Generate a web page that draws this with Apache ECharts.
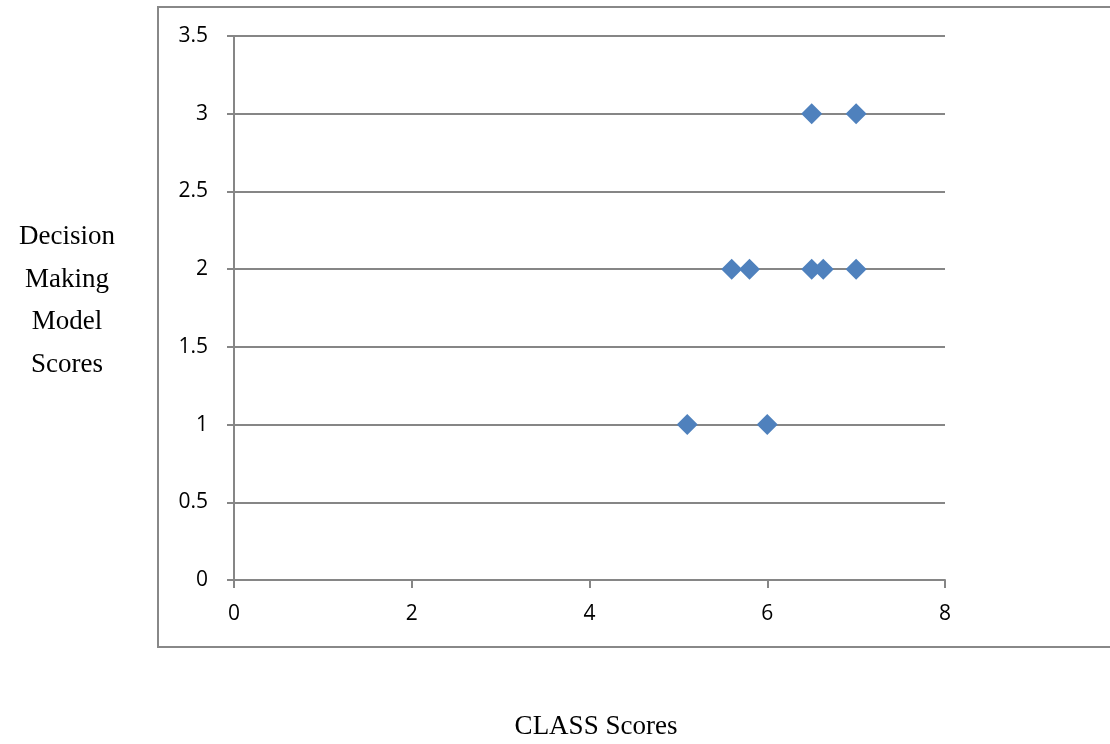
<!DOCTYPE html>
<html><head><meta charset="utf-8">
<script src="https://cdn.jsdelivr.net/npm/echarts@6/dist/echarts.min.js"></script>
<style>html,body{margin:0;padding:0;background:#fff}#c{width:1110px;height:744px}</style>
</head><body><div id="c"></div>
<script>
const classScores = [6.5, 7.0, 5.6, 5.8, 6.5, 6.63, 7.0, 5.1, 6.0];
const decisionScores = [3, 3, 2, 2, 2, 2, 2, 1, 1];
const xTitle = 'CLASS Scores';
const yTitleLines = ['Decision', 'Making', 'Model', 'Scores'];

const points = classScores.map((x, i) => [x, decisionScores[i]]);
const chart = echarts.init(document.getElementById('c'));
const axisFont = {fontFamily: '"Open Sans", "Noto Sans", sans-serif', fontSize: 21, color: '#000'};
chart.setOption({
  animation: false,
  grid: {left: 234, top: 36, right: 165, bottom: 164},
  xAxis: {
    type: 'value', min: 0, max: 8, interval: 2,
    axisLine: {show: true, lineStyle: {color: '#868686', width: 2}},
    axisTick: {show: true, inside: false, length: 8, lineStyle: {color: '#868686', width: 2}},
    axisLabel: Object.assign({margin: 24}, axisFont),
    splitLine: {show: false}
  },
  yAxis: {
    type: 'value', min: 0, max: 3.5, interval: 0.5,
    axisLine: {show: true, lineStyle: {color: '#868686', width: 2}},
    axisTick: {show: true, length: 7, lineStyle: {color: '#868686', width: 2}},
    axisLabel: Object.assign({margin: 26, padding: [6, 0, 0, 0]}, axisFont),
    splitLine: {show: true, lineStyle: {color: '#868686', width: 2}}
  },
  graphic: [
    {type: 'rect', shape: {x: 158, y: 7, width: 1000, height: 640}, style: {fill: null, stroke: '#888', lineWidth: 2}, silent: true, z: -1},
    {type: 'text', style: {text: yTitleLines.join('\n'), x: 67, y: 216, textAlign: 'center', font: '27px "Liberation Serif", "Times New Roman", serif', lineHeight: 42.5, fill: '#000'}},
    {type: 'text', style: {text: xTitle, x: 596, y: 713, textAlign: 'center', font: '27px "Liberation Serif", "Times New Roman", serif', fill: '#000'}}
  ],
  series: [{
    type: 'scatter', data: points, symbol: 'diamond', symbolSize: 21,
    itemStyle: {color: '#4f81bd', opacity: 1}
  }]
});
</script></body></html>
